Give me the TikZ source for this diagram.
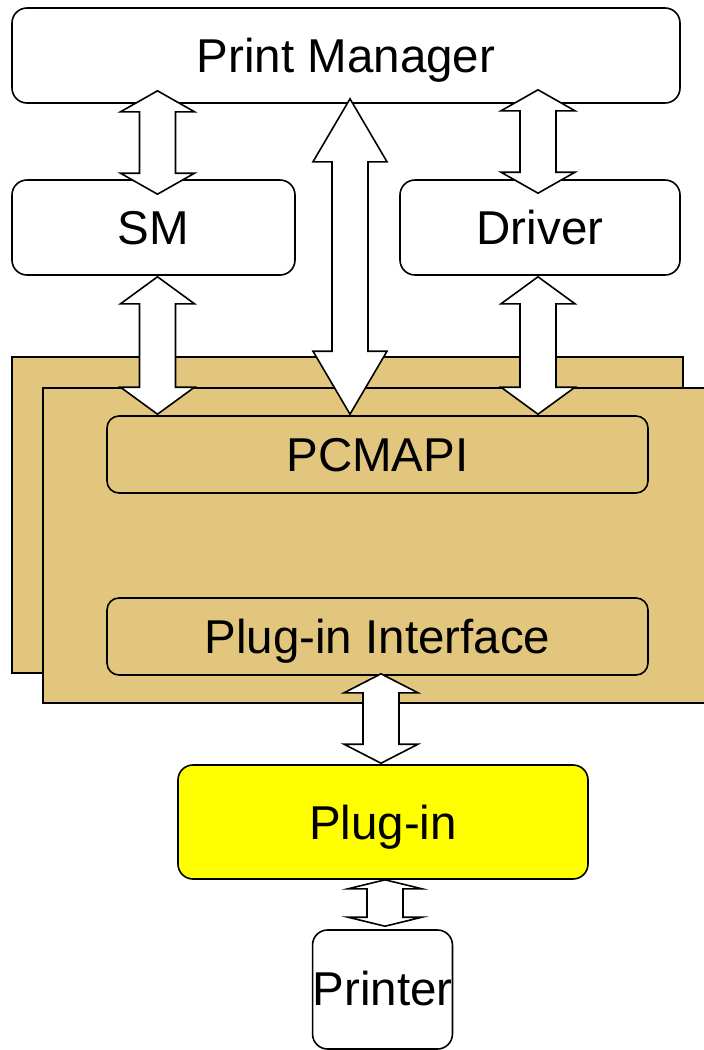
\documentclass[tikz,border=0pt]{standalone}
\usepackage{fontspec}
\setmainfont{Liberation Sans}
\usepackage{tikz}
\usetikzlibrary{calc}

\definecolor{panel}{RGB}{226,198,126}
\definecolor{plugyellow}{RGB}{255,255,0}

\tikzset{
  box/.style={draw, line width=1.6pt, rounded corners=15pt, fill=white, inner sep=0pt,
    font=\fontsize{47.5}{50}\selectfont, text height=34pt, text depth=0pt},
  layerbox/.style={box, fill=panel, rounded corners=12pt},
  panelrect/.style={draw, line width=1.6pt, fill=panel, inner sep=0pt},
  blockarrow/.style={draw, line width=1.6pt, fill=white, miter limit=20}
}

% double block arrow: top tip, bottom tip, head length
\newcommand{\dblarrow}[3]{%
  \draw[blockarrow] (#1) -- ++(37,#3) -- ++(-19,0) -- ($(#2)+(18,-#3)$) -- ++(19,0) -- (#2)
    -- ++(-37,-#3) -- ++(19,0) -- ($(#1)+(-18,#3)$) -- ++(-19,0) -- cycle;}

\begin{document}
\begin{tikzpicture}[x=1pt,y=1pt,yscale=-1,xscale=1]
\useasboundingbox (0,0) rectangle (704,1050);

%Shape: Rectangle [back panel]
\node[panelrect, minimum width=671pt, minimum height=316pt] (backpanel) at (347.5,515) {};
%Shape: Rectangle [front panel]
\node[panelrect, minimum width=669pt, minimum height=315pt] (frontpanel) at (377.5,545.5) {};

% Boxes
\node[box, minimum width=668pt, minimum height=95pt] (pm) at (346,55.5) {Print Manager};
\node[box, minimum width=283pt, minimum height=95pt] (sm) at (153.5,227.5) {SM};
\node[box, minimum width=280pt, minimum height=95pt] (drv) at (540,227.5) {Driver};
\node[layerbox, minimum width=541pt, minimum height=77pt] (pcmapi) at (377.5,454.5) {PCMAPI};
\node[layerbox, minimum width=541pt, minimum height=77pt] (pif) at (377.5,636.5) {Plug-in Interface};
\node[box, fill=plugyellow, minimum width=410pt, minimum height=114pt] (plugin) at (383,822) {Plug-in};
\node[box, minimum width=139pt, minimum height=119pt, text height=32pt] (printer) at (382.5,989.5) {Printer};

% Arrow ends
\coordinate (smpmA) at ($(pm.south -| sm.north)+(4,-13)$);
\coordinate (smpmB) at ($(sm.north)+(4,15)$);
\coordinate (pmpcA) at ($(pm.south)+(4,-5)$);
\coordinate (pmpcB) at ($(pcmapi.north -| pmpcA)+(0,-1)$);
\coordinate (drvpmA) at ($(pm.south -| drv.north)+(-2,-14)$);
\coordinate (drvpmB) at ($(drv.north)+(-2,14)$);
\coordinate (smpcA) at ($(sm.south)+(4,1)$);
\coordinate (smpcB) at ($(pcmapi.north -| smpcA)+(0,-1)$);
\coordinate (drvpcA) at ($(drv.south)+(-2,1)$);
\coordinate (drvpcB) at ($(pcmapi.north -| drvpcA)+(0,-1)$);
\coordinate (pifplA) at ($(pif.south -| plugin.north)+(-2,-2)$);
\coordinate (pifplB) at ($(plugin.north)+(-2,-1)$);
\coordinate (plprA) at ($(plugin.south)+(2,0)$);
\coordinate (plprB) at ($(printer.north -| plprA)+(0,-3)$);

% Block arrows
\dblarrow{smpmA}{smpmB}{21}
\dblarrow{pmpcA}{pmpcB}{63}
\dblarrow{drvpmA}{drvpmB}{21}
\dblarrow{smpcA}{smpcB}{27}
\dblarrow{drvpcA}{drvpcB}{27}
\dblarrow{pifplA}{pifplB}{19}
\dblarrow{plprA}{plprB}{9}

\end{tikzpicture}
\end{document}
